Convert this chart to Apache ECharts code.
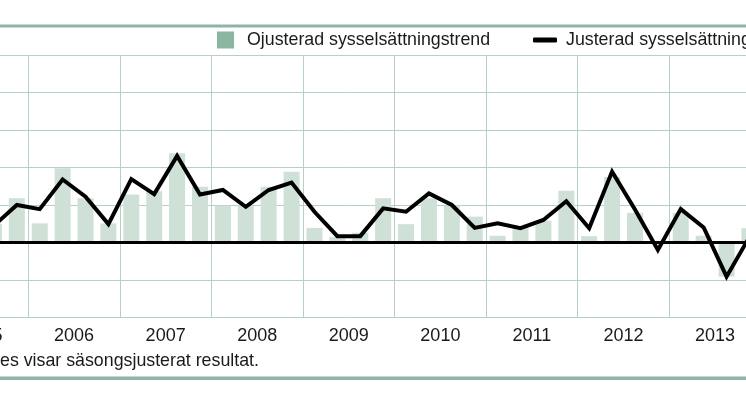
<!DOCTYPE html>
<html>
<head>
<meta charset="utf-8">
<script src="https://cdn.jsdelivr.net/npm/echarts@6/dist/echarts.min.js"></script>
<style>
  html, body { margin: 0; padding: 0; background: #fff; overflow: hidden; width: 746px; height: 419px; }
  #chart { position: absolute; left: -100px; top: 0; width: 960px; height: 419px; }
</style>
</head>
<body>
<div id="chart"></div>
<script>
// år och kvartal
var years = ['2005', '2006', '2007', '2008', '2009', '2010', '2011', '2012', '2013'];
var quarters = [];
years.forEach(function (y) {
    for (var q = 1; q <= 4; q++) quarters.push(y + ' kv' + q);
});

// ojusterad sysselsättningstrend (staplar), 2005 kv1 - 2013 kv4
var ojusterad = [
    null, null, 0.5, 1.18,
    0.51, 1.98, 1.18, 0.51,
    1.28, 1.37, 2.38, 1.49,
    0.98, 0.98, 1.49, 1.89,
    0.39, 0.15, 0.26, 1.18,
    0.49, 1.18, 0.98, 0.69,
    0.18, 0.4, 0.58, 1.38,
    0.17, 1.75, 0.79, 0,
    0.79, 0.18, -0.91, 0.38
];

// justerad sysselsättningstrend (linje)
var justerad = [
    null, null, 0.45, 1.0,
    0.89, 1.68, 1.22, 0.49,
    1.69, 1.29, 2.31, 1.28,
    1.4, 0.95, 1.4, 1.6,
    0.82, 0.17, 0.17, 0.91,
    0.82, 1.31, 1.0, 0.39,
    0.51, 0.38, 0.6, 1.1,
    0.38, 1.89, 0.88, -0.2,
    0.89, 0.4, -0.91, 0.15
];

var gridColor = '#b7d0c6';
var font = 'Liberation Sans, Arial, Helvetica, sans-serif';

var chart = echarts.init(document.getElementById('chart'));
var option = {
    animation: false,
    grid: { left: 36.7, right: 99.1, top: 55, bottom: 101.5 },
    legend: [
        {
            left: 317, top: 31, padding: 0,
            icon: 'rect', itemWidth: 17, itemHeight: 17,
            textStyle: { fontSize: 17.8, fontFamily: font, color: '#1a1a1a', padding: [0, 0, 0, 8] },
            data: [{ name: 'Ojusterad sysselsättningstrend', itemStyle: { color: '#8cb5a2' } }]
        },
        {
            left: 633, top: 31, padding: 0,
            icon: 'roundRect', itemWidth: 24, itemHeight: 5,
            textStyle: { fontSize: 17.8, fontFamily: font, color: '#1a1a1a', padding: [0, 0, 0, 4] },
            data: ['Justerad sysselsättningstrend']
        }
    ],
    xAxis: [
        {
            type: 'category',
            data: quarters,
            position: 'bottom',
            z: 3,
            axisLine: { onZero: true, lineStyle: { color: '#000', width: 3 } },
            axisTick: { show: false },
            axisLabel: { show: false },
            splitLine: { show: false }
        },
        {
            type: 'category',
            data: years,
            position: 'bottom',
            axisLine: { show: false, onZero: false },
            axisTick: { show: false },
            axisLabel: { interval: 0, margin: 10, fontSize: 18, fontFamily: font, color: '#1a1a1a' },
            splitLine: { show: true, interval: 0, lineStyle: { color: gridColor, width: 1 } }
        }
    ],
    yAxis: {
        type: 'value',
        min: -2, max: 5, interval: 1,
        axisLine: { show: false },
        axisTick: { show: false },
        axisLabel: { show: false },
        splitLine: { lineStyle: { color: gridColor, width: 1 } }
    },
    series: [
        {
            name: 'Ojusterad sysselsättningstrend',
            type: 'bar',
            xAxisIndex: 0,
            barWidth: 16,
            itemStyle: { color: '#cfe1d7' },
            data: ojusterad
        },
        {
            name: 'Justerad sysselsättningstrend',
            type: 'line',
            xAxisIndex: 0,
            z: 4,
            showSymbol: false,
            symbol: 'none',
            lineStyle: { color: '#000', width: 4, join: 'miter' },
            itemStyle: { color: '#000' },
            data: justerad
        }
    ],
    graphic: [
        { type: 'rect', left: 0, top: 24.5, shape: { width: 960, height: 3 }, style: { fill: '#8fb4a3' }, silent: true },
        { type: 'rect', left: 0, top: 376.5, shape: { width: 960, height: 3.5 }, style: { fill: '#8fb4a3' }, silent: true },
        {
            type: 'text', left: 100, top: 352,
            style: { text: 'es visar säsongsjusterat resultat.', fontSize: 17.8, fontFamily: font, fill: '#1a1a1a' },
            silent: true
        }
    ]
};
chart.setOption(option);
</script>
</body>
</html>
